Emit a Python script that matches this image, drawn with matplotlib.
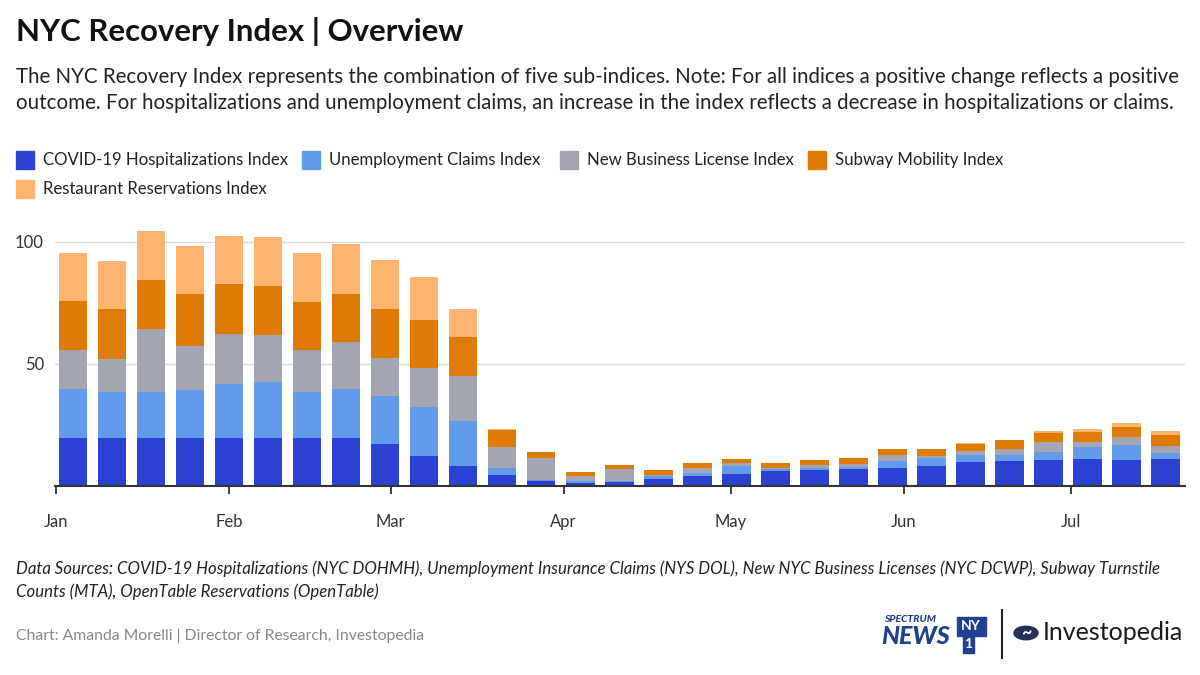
import matplotlib
matplotlib.use('agg')
import matplotlib.pyplot as plt
from matplotlib.patches import Rectangle, Circle
import numpy as np

plt.rcParams['font.family'] = ['Lato', 'DejaVu Sans']

# weekly values, week 1 = early January 2020
weeks = np.arange('2020-01-04', '2020-07-19', 7, dtype='datetime64[D]')
covid = [19.7, 19.7, 19.7, 19.7, 19.7, 19.7, 19.7, 19.7, 17.3, 12.4, 8.3, 4.4, 2.2, 1.4, 1.6,
         2.7, 4.0, 5.1, 6.0, 6.4, 6.8, 7.4, 8.2, 10.0, 10.2, 10.7, 10.9, 10.5, 10.9]
unemp = [20.0, 18.7, 18.7, 19.5, 22.1, 23.1, 18.8, 19.9, 19.6, 19.8, 18.5, 3.0, 0.3, 0.5, 0.4,
         1.4, 1.2, 3.1, 0.8, 1.1, 1.1, 2.7, 3.1, 2.6, 2.6, 3.1, 5.1, 6.4, 2.8]
business = [16.1, 13.8, 25.8, 18.3, 20.4, 19.2, 17.1, 19.6, 15.6, 16.0, 18.4, 8.4, 8.8, 2.1, 4.8,
            0.5, 2.2, 1.1, 0.7, 1.0, 1.0, 2.5, 1.1, 1.9, 2.5, 4.1, 1.9, 3.2, 2.6]
subway = [19.9, 20.2, 20.4, 21.1, 20.5, 20.1, 19.8, 19.4, 19.9, 19.8, 15.9, 7.2, 2.6, 1.7, 1.9,
          1.8, 1.9, 1.8, 2.1, 2.0, 2.6, 2.4, 2.9, 2.8, 3.4, 4.0, 4.1, 4.2, 4.5]
restaurant = [19.8, 19.9, 19.8, 19.8, 19.8, 20.1, 20.0, 20.6, 20.2, 17.8, 11.3, 0.5, 0, 0, 0,
              0, 0, 0, 0, 0, 0, 0, 0, 0.3, 0, 0.6, 1.4, 1.5, 1.9]

series = [covid, unemp, business, subway, restaurant]
names = ['COVID-19 Hospitalizations Index', 'Unemployment Claims Index',
         'New Business License Index', 'Subway Mobility Index',
         'Restaurant Reservations Index']
colors = ['#2b41d1', '#629bec', '#a3a6b1', '#df7b05', '#feb36e']
month_ticks = np.arange('2020-01', '2020-08', dtype='datetime64[M]').astype('datetime64[D]')
month_labels = ['Jan', 'Feb', 'Mar', 'Apr', 'May', 'Jun', 'Jul']
y_ticks = [50, 100]

W, H = 1200, 675
fig = plt.figure(figsize=(12, 6.75), dpi=100)

def fx(x):
    return x / W

def fy(y):
    return 1 - y / H

ax = fig.add_axes([fx(55), fy(486), fx(1185) - fx(55), (110 * 2.44) / H])
bottom = np.zeros(len(weeks))
for vals, col in zip(series, colors):
    ax.bar(weeks, vals, width=5.1, bottom=bottom, color=col, zorder=3)
    bottom += np.array(vals)

ax.set_xlim(np.datetime64('2019-12-31T18'), np.datetime64('2020-07-21T12'))
ax.set_ylim(0, 110)
ax.set_yticks(y_ticks)
ax.set_yticklabels([str(v) for v in y_ticks])
ax.set_xticks(month_ticks)
ax.set_xticklabels(month_labels)
ax.grid(axis='y', color='#dddddd', linewidth=1, zorder=0)
for s in ['top', 'right', 'left']:
    ax.spines[s].set_visible(False)
ax.spines['bottom'].set_color('#333333')
ax.spines['bottom'].set_linewidth(1.5)
ax.spines['bottom'].set_zorder(4)
ax.tick_params(axis='x', length=6, width=1.3, color='#333333', pad=14,
               labelsize=12, labelcolor='#333333')
ax.tick_params(axis='y', length=0, pad=8, labelsize=12, labelcolor='#333333')

# header
fig.text(fx(16), fy(31), 'NYC Recovery Index | Overview', fontsize=22.4,
         fontweight='bold', color='#111111', va='center')
fig.text(fx(16), fy(77),
         'The NYC Recovery Index represents the combination of five sub-indices. Note: For all indices a positive change reflects a positive',
         fontsize=14.8, color='#222222', va='center')
fig.text(fx(16), fy(103),
         'outcome. For hospitalizations and unemployment claims, an increase in the index reflects a decrease in hospitalizations or claims.',
         fontsize=14.8, color='#222222', va='center')

# legend
leg_pos = [(16, 160), (302, 160), (560, 160), (808, 160), (16, 189)]
for (lx, ly), name, col in zip(leg_pos, names, colors):
    fig.patches.append(Rectangle((fx(lx), fy(ly + 9)), 18 / W, 18 / H,
                                 transform=fig.transFigure, color=col))
    fig.text(fx(lx + 27), fy(ly), name, fontsize=12.1, color='#222222', va='center')

# footer
fig.text(fx(16), fy(569),
         'Data Sources: COVID-19 Hospitalizations (NYC DOHMH), Unemployment Insurance Claims (NYS DOL), New NYC Business Licenses (NYC DCWP), Subway Turnstile',
         fontsize=12.1, style='italic', color='#222222', va='center')
fig.text(fx(16), fy(592), 'Counts (MTA), OpenTable Reservations (OpenTable)',
         fontsize=12.1, style='italic', color='#222222', va='center')
fig.text(fx(16), fy(636), 'Chart: Amanda Morelli | Director of Research, Investopedia',
         fontsize=11.3, color='#888888', va='center')

# logos
navy = '#1f3f8f'
fig.text(fx(884), fy(619), 'SPECTRUM', fontsize=7.5, fontweight='black', style='italic',
         color=navy, va='center')
fig.text(fx(881), fy(637), 'NEWS', fontsize=18, fontweight='black', style='italic',
         color=navy, va='center')
fig.patches.append(Rectangle((fx(957), fy(636)), 29 / W, 19 / H,
                             transform=fig.transFigure, color=navy))
fig.patches.append(Rectangle((fx(963), fy(653)), 11 / W, 17 / H,
                             transform=fig.transFigure, color=navy))
fig.text(fx(971), fy(626), 'NY', fontsize=10, fontweight='bold', color='white',
         ha='center', va='center')
fig.text(fx(968.5), fy(644), '1', fontsize=10, fontweight='bold', color='white',
         ha='center', va='center')
fig.lines.append(plt.Line2D([fx(1002), fx(1002)], [fy(610), fy(658)],
                            transform=fig.transFigure, color='#222222', linewidth=1.5))
fig.patches.append(Circle((fx(1026), fy(633)), 12 / W, transform=fig.transFigure,
                          color='#2a3158'))
fig.text(fx(1026), fy(633), '~', fontsize=13, fontweight='bold', color='white',
         ha='center', va='center')
fig.text(fx(1043), fy(633), 'Investopedia', fontsize=18, color='#1a1a1a', va='center')

plt.savefig('out.png', dpi=100)
